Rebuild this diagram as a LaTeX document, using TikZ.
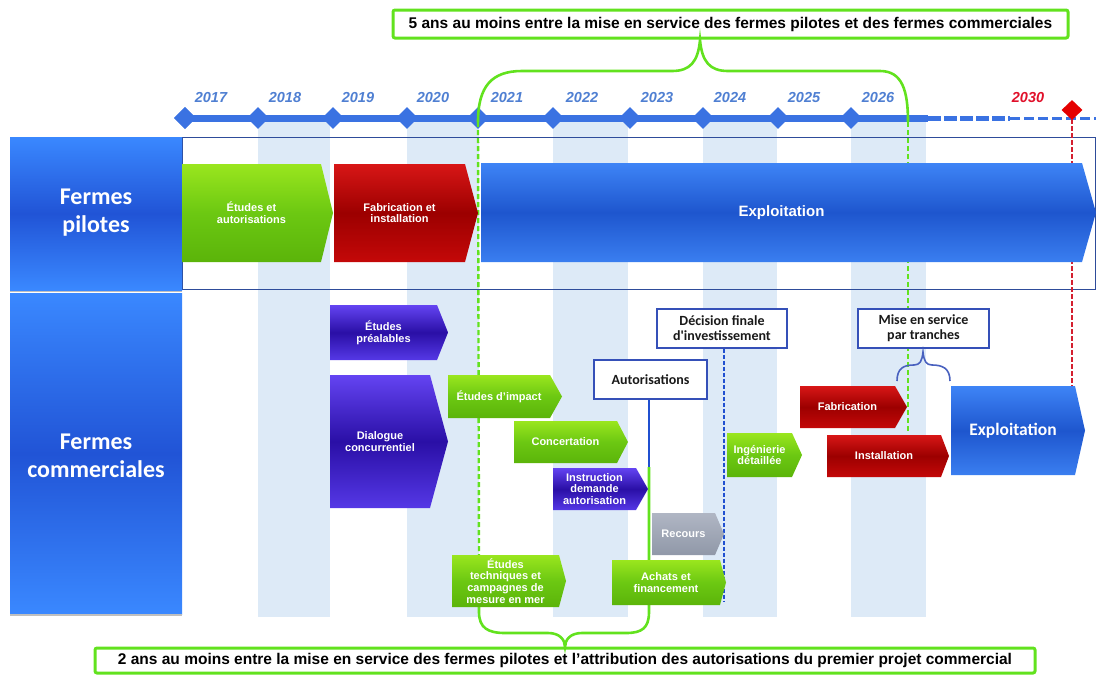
\documentclass[tikz,border=0pt]{standalone}
\usepackage{fontspec}
\setmainfont{Liberation Sans}
\newfontfamily\calib{Carlito}
\usetikzlibrary{shapes.geometric}
\definecolor{stripe}{HTML}{DDEAF7}
\definecolor{barblue}{HTML}{3A72E2}
\definecolor{yearblue}{HTML}{4F7FD2}
\definecolor{yearred}{HTML}{E0102A}
\definecolor{framec}{HTML}{2E4C9A}
\definecolor{bgreen}{HTML}{62E21E}
\definecolor{gA}{HTML}{9AE61E}\definecolor{gB}{HTML}{6CC812}\definecolor{gC}{HTML}{5BB40A}
\definecolor{rA}{HTML}{D81616}\definecolor{rB}{HTML}{9C0000}\definecolor{rC}{HTML}{C40808}
\definecolor{bA}{HTML}{3E84F6}\definecolor{bB}{HTML}{1E56CE}\definecolor{bC}{HTML}{3A7EF0}
\definecolor{pA}{HTML}{6444F2}\definecolor{pB}{HTML}{2A0FA6}\definecolor{pC}{HTML}{5538E6}
\definecolor{grA}{HTML}{B0B6C4}\definecolor{grC}{HTML}{9098A8}
\definecolor{lA}{HTML}{3A88FF}\definecolor{lB}{HTML}{2154D6}
\definecolor{boxline}{HTML}{3550B8}
\definecolor{dblue}{HTML}{2050D0}
\definecolor{rline}{HTML}{D42030}
\tikzset{
  gsh/.style={top color=gA, bottom color=gC, middle color=gB},
  rsh/.style={top color=rA, bottom color=rC, middle color=rB},
  bsh/.style={top color=bA, bottom color=bC, middle color=bB},
  psh/.style={top color=pA, bottom color=pC, middle color=pB},
  grsh/.style={top color=grA, bottom color=grC},
  lsh/.style={top color=lA, bottom color=lA, middle color=lB},
  atext/.style={text=white, align=center, inner sep=0pt, font=\bfseries\fontsize{11}{11.8}\selectfont},
  bigtext/.style={text=white, align=center, inner sep=0pt, font=\bfseries\fontsize{15}{17}\selectfont},
  cbigtext/.style={text=white, align=center, inner sep=0pt, font=\calib\bfseries\fontsize{17.5}{19}\selectfont},
  sidelab/.style={text=white, align=center, inner sep=0pt, font=\calib\bfseries\fontsize{24}{28}\selectfont},
  yr/.style={text=yearblue, inner sep=0pt, font=\bfseries\itshape\fontsize{14.5}{14.5}\selectfont},
  diam/.style={diamond, fill=barblue, minimum width=22pt, minimum height=22pt, inner sep=0pt},
  lbox/.style={draw=boxline, line width=1.2pt, fill=white, align=center, inner sep=0pt, text=black!90, font=\calib\bfseries\fontsize{14}{15}\selectfont},
  banner/.style={draw=bgreen, line width=3pt, fill=white, rounded corners=2pt, inner sep=0pt, font=\bfseries\fontsize{15.5}{15.5}\selectfont},
  gline/.style={draw=bgreen, line width=2.6pt},
  gdash/.style={draw=bgreen, line width=2.4pt, dash pattern=on 5pt off 3pt},
}
% name, x1, y1, x2, y2, depth, shading, text style, text
\newcommand\chev[9]{%
  \shade[#7] (#2,#3) -- ({#4-#6},#3) -- (#4,{(#3+#5)/2}) -- ({#4-#6},#5) -- (#2,#5) -- cycle;
  \node[#8] (#1) at ({(#2+#4-#6)/2},{(#3+#5)/2}) {#9};}
\begin{document}
\begin{tikzpicture}[x=1pt,y=-1pt]
\useasboundingbox (0,0) rectangle (1096,675);
% stripes
\foreach \sx/\sw in {258/72,407/72,553/75,703/74,851/75}
  \fill[stripe] (\sx,122) rectangle (\sx+\sw,617);
% pilot frame
\draw[framec, line width=1pt] (182,137) rectangle (1095,289.5);
% side labels
\shade[lsh] (10,137) rectangle (182,290);
\shade[lsh] (10,293) rectangle (182,614);
\draw[black!25, line width=1.5pt] (10,291.5) -- (182,291.5);
\draw[black!25, line width=1.5pt] (10,615) -- (182,615);
\node[sidelab] (fp) at (96,213) {Fermes\\pilotes};
\node[sidelab] (fc) at (96,456) {Fermes\\commerciales};
% timeline
\node[diam] (d2017) at (185,118) {};
\coordinate (barend) at (928,118);
\coordinate (dashmid) at (1010,118);
\coordinate (dashend) at (1096,118);
\draw[barblue, line width=7pt] (d2017.center) -- (barend);
\draw[barblue, line width=5pt, dash pattern=on 13pt off 3pt] (barend) -- (dashmid);
\draw[barblue, line width=3pt, dash pattern=on 10pt off 4pt] (dashmid) -- (dashend);
\node[diam] (d2017b) at (185,118) {};
\node[diam] (d2018) at (258,118) {};
\node[diam] (d2019) at (333,118) {};
\node[diam] (d2020) at (407,118) {};
\node[diam] (d2021) at (478,118) {};
\node[diam] (d2022) at (553,118) {};
\node[diam] (d2023) at (630,118) {};
\node[diam] (d2024) at (703,118) {};
\node[diam] (d2025) at (778,118) {};
\node[diam] (d2026) at (851,118) {};
\node[yr] (y2017) at (211,98) {2017};
\node[yr] (y2018) at (285,98) {2018};
\node[yr] (y2019) at (358,98) {2019};
\node[yr] (y2020) at (433,98) {2020};
\node[yr] (y2021) at (507,98) {2021};
\node[yr] (y2022) at (582,98) {2022};
\node[yr] (y2023) at (657,98) {2023};
\node[yr] (y2024) at (730,98) {2024};
\node[yr] (y2025) at (804,98) {2025};
\node[yr] (y2026) at (878,98) {2026};
\node[yr, text=yearred] (y2030) at (1028,98) {2030};
% red marker
\coordinate (redend) at (1072,395);
\draw[rline, line width=2.6pt, dash pattern=on 5pt off 2pt] (1072,112) -- (redend);
\node[diam, fill=red!90!black, minimum width=21pt, minimum height=20pt] (d2030) at (1072,110) {};
% banners
\node[banner, minimum width=675pt, minimum height=28pt] (topb) at (730.5,24) {5 ans au moins entre la mise en service des fermes pilotes et des fermes commerciales};
\node[banner, minimum width=940pt, minimum height=25pt] (botb) at (565,660.5) {2 ans au moins entre la mise en service des fermes pilotes et l'attribution des autorisations du premier projet commercial};
% top brace and legs
\coordinate (tl) at (478,122);
\coordinate (tr) at (908,122);
\draw[gline] (tl) .. controls (478,86) and (492,71) .. (522,71) -- (672,71)
   .. controls (690,71) and (698,62) .. (700,40)
   .. controls (702,62) and (710,71) .. (728,71) -- (880,71)
   .. controls (902,71) and (908,90) .. (tr);
\coordinate (gl) at (479,560);
\coordinate (gr) at (908,433);
\draw[gdash] (tl) -- (gl);
\draw[gdash] (tr) -- (gr);
% label boxes
\node[lbox, minimum width=113pt, minimum height=39pt] (aut) at (650.5,379.5) {Autorisations};
\node[lbox, minimum width=130pt, minimum height=39pt] (dfi) at (722,328.5) {Décision finale\\d'investissement};
\node[lbox, minimum width=131pt, minimum height=39pt] (msp) at (923.5,328.5) {Mise en service\\par tranches};
\coordinate (autmid) at (649,467);
\coordinate (dfiend) at (724,602);
\draw[dblue, line width=2pt] (aut.south -| autmid) -- (autmid);
\draw[dblue, line width=2pt, dash pattern=on 4pt off 2pt] (dfi.south -| dfiend) -- (dfiend);
\draw[boxline!90, line width=1.6pt] (897,381) .. controls (897,368) and (904,365) .. (914,365)
   .. controls (920,365) and (922,361) .. (923,352)
   .. controls (924,361) and (926,365) .. (932,365)
   .. controls (942,365) and (950,368) .. (950,381);
% bottom brace
\draw[gline] (gl) -- (479,612) .. controls (479,628) and (488,633) .. (505,633) -- (548,633)
   .. controls (560,633) and (565,640) .. (565,647)
   .. controls (565,640) and (570,633) .. (582,633) -- (626,633)
   .. controls (642,633) and (649,628) .. (649,612) -- (autmid);
% pilot arrows
\chev{pea}{182}{164}{333}{262}{12}{gsh}{atext}{Études et\\autorisations}
\chev{pfi}{334}{164}{478}{262}{13}{rsh}{atext}{Fabrication et\\installation}
\chev{pex}{481}{163}{1096}{262}{14}{bsh}{bigtext}{Exploitation}
% commercial arrows
\chev{cep}{330}{305}{448}{360}{11}{psh}{atext}{Études\\préalables}
\chev{cdc}{330}{375}{448}{508}{18}{psh}{atext}{Dialogue\\concurrentiel}
\chev{cei}{448}{375}{562}{418}{12}{gsh}{atext}{Études d'impact}
\chev{cco}{514}{421}{628}{463}{11}{gsh}{atext}{Concertation}
\chev{cin}{553}{468}{648}{510}{12}{psh}{atext}{Instruction\\demande\\autorisation}
\chev{cre}{652}{513}{724}{555}{9}{grsh}{atext}{Recours}
\chev{cet}{452}{555}{566}{607}{7}{gsh}{atext}{Études\\techniques et\\campagnes de\\mesure en mer}
\chev{cac}{612}{560}{726}{605}{6}{gsh}{atext}{Achats et\\financement}
\chev{cid}{727}{433}{802}{477}{10}{gsh}{atext}{Ingénierie\\détaillée}
\chev{cfa}{800}{386}{907}{428}{12}{rsh}{atext}{Fabrication}
\chev{cins}{827}{435}{949}{477}{8}{rsh}{atext}{Installation}
\chev{cex}{951}{386}{1085}{475}{10}{bsh}{cbigtext}{Exploitation}
\end{tikzpicture}
\end{document}
